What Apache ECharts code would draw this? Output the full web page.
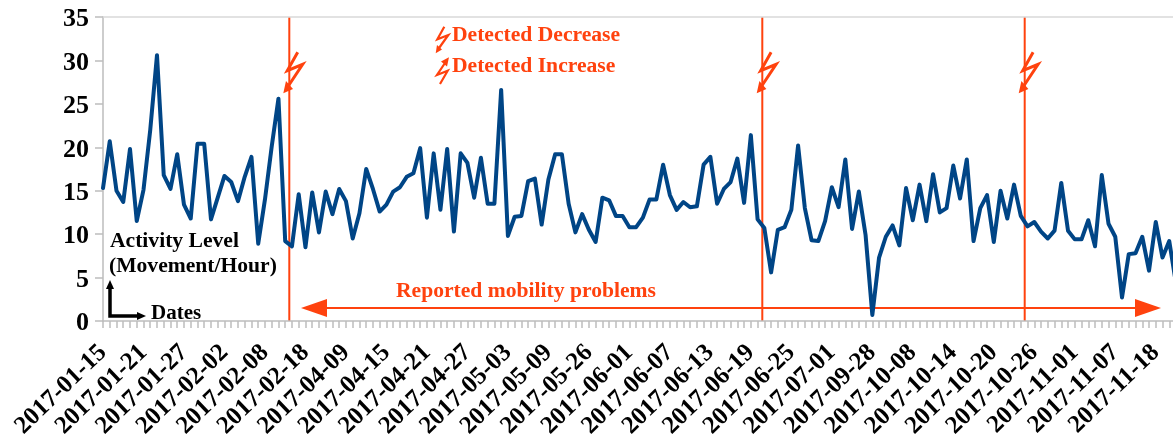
<!DOCTYPE html>
<html>
<head>
<meta charset="utf-8">
<style>html,body{margin:0;padding:0;background:#fff;overflow:hidden}#c{width:1173px;height:443px}</style>
<script src="https://cdn.jsdelivr.net/npm/echarts@6/dist/echarts.min.js"></script>
</head>
<body>
<div id="c"></div>
<script>
const tickLabels = ['2017-01-15','2017-01-21','2017-01-27','2017-02-02','2017-02-08','2017-02-18','2017-04-09','2017-04-15','2017-04-21','2017-04-27','2017-05-03','2017-05-09','2017-05-26','2017-06-01','2017-06-07','2017-06-13','2017-06-19','2017-06-25','2017-07-01','2017-09-28','2017-10-08','2017-10-14','2017-10-20','2017-10-26','2017-11-01','2017-11-07','2017-11-18'];
const activity = [
 15.3,20.7,15.0,13.7,19.8,11.5,15.1,22.0,30.6,16.8,
 15.2,19.2,13.4,11.8,20.4,20.4,11.7,14.2,16.7,16.0,
 13.8,16.6,18.9,8.9,14.0,20.1,25.6,9.2,8.6,14.6,
 8.5,14.8,10.2,14.9,12.3,15.2,13.8,9.5,12.4,17.5,
 15.2,12.6,13.4,14.9,15.4,16.6,17.0,19.9,11.9,19.3,
 12.8,19.8,10.3,19.3,18.2,14.2,18.8,13.5,13.5,26.6,
 9.8,12.0,12.1,16.1,16.4,11.1,16.3,19.2,19.2,13.5,
 10.2,12.3,10.5,9.1,14.2,13.9,12.1,12.1,10.8,10.8,
 11.9,14.0,14.0,18.0,14.5,12.8,13.7,13.1,13.2,18.0,
 18.9,13.5,15.2,16.0,18.7,13.6,21.4,11.7,10.7,5.6,
 10.5,10.8,12.8,20.2,13.0,9.3,9.2,11.5,15.4,13.1,
 18.6,10.6,14.9,9.9,0.7,7.3,9.7,11.0,8.7,15.3,
 11.6,15.7,11.5,16.9,12.5,13.0,17.9,14.1,18.6,9.2,
 13.0,14.5,9.1,15.0,11.8,15.7,12.1,10.9,11.4,10.3,
 9.5,10.4,15.9,10.4,9.4,9.4,11.6,8.6,16.8,11.2,
 9.7,2.7,7.7,7.8,9.7,5.8,11.4,7.3,9.2,4.3];
const legendTexts = ['Detected Decrease','Detected Increase'];
const spanText = 'Reported mobility problems';
const axisTexts = ['Activity Level','(Movement/Hour)','Dates'];

const categories = activity.map((_, i) => (i % 6 === 0 && tickLabels[i / 6]) || '');
const RED = '#ff420e', BLUE = '#004586', GREY = '#bdbdbd';
const SERIF = '"Liberation Serif","Times New Roman",serif';

function txt(text, x, y, color, size) {
  return {type:'text', silent:true, style:{text, x, y, fill:color, font:'bold '+size+'px '+SERIF, textVerticalAlign:'middle'}};
}
function vline(x) {
  return {type:'line', silent:true, shape:{x1:x,y1:17,x2:x,y2:321}, style:{stroke:RED, lineWidth:2}};
}
function tri(points, color) {
  return {type:'polygon', silent:true, shape:{points}, style:{fill:color}};
}
function bolt(pts, head, w) {
  return [
    {type:'polyline', silent:true, shape:{points:pts}, style:{stroke:RED, lineWidth:w, fill:null}},
    tri(head, RED)
  ];
}
function bigBolt(dx) {
  return bolt(
    [[297.7+dx,52.3],[287.3+dx,70.7],[302.7+dx,64.3],[287+dx,88]],
    [[283.3+dx,93.3],[286+dx,81],[293+dx,89]], 3);
}
const graphics = [
  vline(289.3), vline(762.3), vline(1024.7),
  ...bigBolt(0), ...bigBolt(473.4), ...bigBolt(735.4),
  ...bolt([[444.3,26.7],[437.3,39.3],[448.3,35],[438,49.5]], [[435.7,53.3],[437,45],[442,49.5]], 2.2),
  ...bolt([[447,60],[437,75],[447.7,70.7],[440,84]], [[449,57.3],[441,61.5],[447,66.5]], 2.2),
  txt(legendTexts[0], 452, 35, RED, 21.6),
  txt(legendTexts[1], 452, 66, RED, 21.6),
  txt(spanText, 396, 291, RED, 21.6),
  txt(axisTexts[0], 110, 241, '#000', 21.6),
  txt(axisTexts[1], 109, 266, '#000', 21.6),
  txt(axisTexts[2], 151, 314, '#000', 21),
  {type:'line', silent:true, shape:{x1:320,y1:308,x2:1140,y2:308}, style:{stroke:RED, lineWidth:2}},
  tri([[301,308],[327,299],[327,317]], RED),
  tri([[1161,308],[1135,299],[1135,317]], RED),
  {type:'polyline', silent:true, shape:{points:[[110,288],[110,316],[140,316]]}, style:{stroke:'#000', lineWidth:3.5, fill:null}},
  tri([[110,280],[106,289],[114,289]], '#000'),
  tri([[146,316],[137,312],[137,320]], '#000')
];

const chart = echarts.init(document.getElementById('c'), null, {renderer:'canvas'});
chart.setOption({
  animation:false,
  backgroundColor:'#fff',
  grid:{left:103, width:1073, top:17, height:304, containLabel:false, outerBoundsMode:'none'},
  xAxis:[
    {type:'category', data:categories, boundaryGap:false,
     axisLine:{lineStyle:{color:GREY, width:1.5}},
     axisTick:{show:true, interval:0, length:7, lineStyle:{color:GREY, width:1.5}},
     axisLabel:{interval:5, rotate:44, margin:28, color:'#000', fontFamily:SERIF, fontWeight:'bold', fontSize:25, hideOverlap:false},
     splitLine:{show:false}},
    {type:'category', data:categories, boundaryGap:false, position:'top',
     axisLine:{lineStyle:{color:'#d9d9d9', width:1.5}}, axisTick:{show:false}, axisLabel:{show:false}, splitLine:{show:false}}
  ],
  yAxis:{type:'value', min:0, max:35, interval:5,
     axisLine:{show:true, lineStyle:{color:GREY, width:1.5}},
     axisTick:{show:true, length:8, lineStyle:{color:GREY, width:1.5}},
     axisLabel:{margin:14, color:'#000', fontFamily:SERIF, fontWeight:'bold', fontSize:26, verticalAlign:'top', lineHeight:5},
     splitLine:{show:false}},
  series:[{type:'line', name:'Activity Level', data:activity, xAxisIndex:0, showSymbol:false, symbol:'none', smooth:false,
     lineStyle:{color:BLUE, width:4, join:'round', cap:'round'}}],
  graphic:{elements:graphics}
});
</script>
</body>
</html>
